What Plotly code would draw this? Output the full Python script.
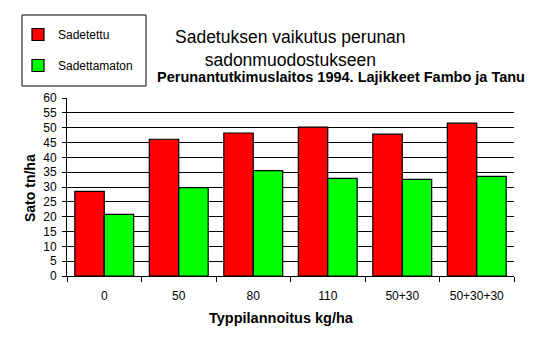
import plotly.graph_objects as go

categories = ["0", "50", "80", "110", "50+30", "50+30+30"]
sadetettu = [28.5, 46.1, 48.2, 50.2, 47.8, 51.5]
sadettamaton = [20.8, 29.8, 35.5, 32.9, 32.6, 33.6]
y_ticks = list(range(0, 61, 5))

FONT = "Liberation Sans, Arial, sans-serif"
W, H = 538, 344
L, R, T, B = 67, 24, 98, 68
PW, PH = W - L - R, H - T - B


def px(x):
    return (x - L) / PW


def py(y):
    return (H - B - y) / PH


fig = go.Figure()
fig.add_trace(go.Bar(x=categories, y=sadetettu, name="Sadetettu", legendgroup="a",
                     marker=dict(color="#ff0000", line=dict(color="black", width=1.2))))
fig.add_trace(go.Bar(x=categories, y=sadettamaton, name="Sadettamaton", legendgroup="b",
                     marker=dict(color="#00ff00", line=dict(color="black", width=1.2))))

fig.update_layout(
    width=W, height=H,
    margin=dict(l=L, r=R, t=T, b=B, autoexpand=False),
    paper_bgcolor="white", plot_bgcolor="white",
    barmode="group", bargap=0.21, bargroupgap=0,
    font=dict(family=FONT, size=12, color="black"),
    showlegend=True,
    legend=dict(xref="container", yref="container", x=18/W, y=1-20/H,
                xanchor="left", yanchor="top", borderwidth=0,
                bgcolor="rgba(0,0,0,0)", tracegroupgap=12, font=dict(size=12),
                itemwidth=30),
    xaxis=dict(type="category", showline=True, linecolor="black", linewidth=1,
               ticks="outside", tickson="boundaries", ticklen=5, tickcolor="black",
               showgrid=False, fixedrange=True, tickangle=0, automargin=False,
               ticklabelstandoff=9),
    yaxis=dict(range=[0, 60], tickvals=y_ticks, showline=True, linecolor="black", linewidth=1,
               ticks="outside", ticklen=4, tickcolor="black", automargin=False,
               ticklabelstandoff=3, fixedrange=True,
               showgrid=True, gridcolor="black", gridwidth=1, zeroline=False),
    shapes=[
        dict(type="rect", xref="paper", yref="paper",
             x0=px(22), x1=px(146), y0=py(15), y1=py(86),
             line=dict(color="black", width=1), fillcolor="rgba(0,0,0,0)", layer="above"),
    ],
    annotations=[
        dict(text="Sadetuksen vaikutus perunan<br>sadonmuodostukseen", xref="paper", yref="paper",
             x=px(290), y=py(25), xanchor="center", yanchor="top",
             showarrow=False, font=dict(size=17.5)),
        dict(text="<b>Perunantutkimuslaitos 1994. Lajikkeet Fambo ja Tanu</b>", xref="paper", yref="paper",
             x=px(341), y=py(67), xanchor="center", yanchor="top",
             showarrow=False, font=dict(size=14.5)),
        dict(text="<b>Typpilannoitus kg/ha</b>", xref="paper", yref="paper",
             x=px(281), y=py(318), xanchor="center", yanchor="middle",
             showarrow=False, font=dict(size=14.5)),
        dict(text="<b>Sato tn/ha</b>", xref="paper", yref="paper",
             x=px(30), y=py(188), xanchor="center", yanchor="middle", textangle=-90,
             showarrow=False, font=dict(size=14)),
    ],
)

fig.write_html("out.html")
